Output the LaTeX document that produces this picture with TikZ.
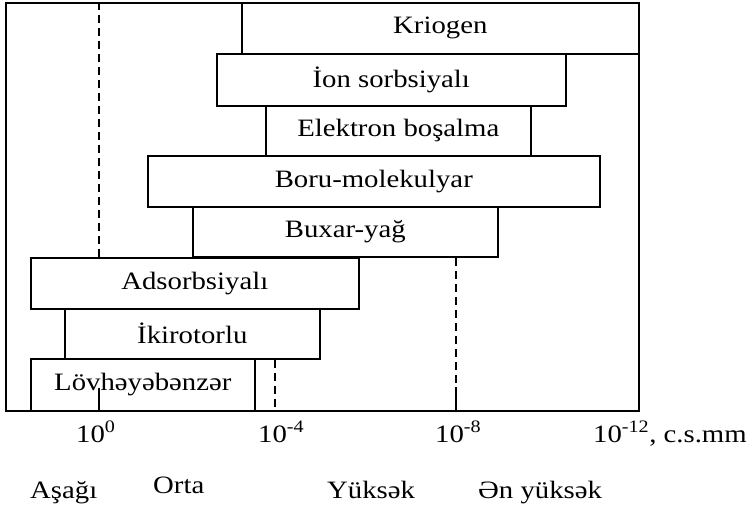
\documentclass[tikz,border=0pt]{standalone}
\usepackage{fontspec}
\setmainfont[FakeStretch=1.15]{Liberation Serif}
\begin{document}
\begin{tikzpicture}[x=1pt,y=-1pt,
  bar/.style={draw,fill=white,line width=1.6pt,inner sep=0pt,anchor=north west,
    font=\fontsize{25}{30}\selectfont},
  lbl/.style={inner sep=0pt,anchor=base west,font=\fontsize{25}{30}\selectfont},
  dashline/.style={line width=1.4pt,dash pattern=on 8pt off 5pt},
  solidline/.style={line width=1.4pt}]
\useasboundingbox (0,0) rectangle (748,509);
% frame
\node[draw,line width=1.6pt,inner sep=0pt,minimum width=633pt,minimum height=408pt,anchor=north west] (frame) at (5,2) {};
% dashed line at 10^0
\coordinate (d0t) at (99,2);
\coordinate (d0b) at (99,257);
\draw[dashline] (d0t) -- (d0b);
% bars
\node[bar,minimum width=397pt,minimum height=51pt] (kriogen) at (241,2) {Kriogen};
\node[bar,minimum width=349pt,minimum height=52pt] (ion) at (216,53) {İon sorbsiyalı};
\node[bar,minimum width=265pt,minimum height=50pt] (elektron) at (265,105) {Elektron boşalma};
\node[bar,minimum width=452pt,minimum height=51pt] (boru) at (147,155) {Boru-molekulyar};
\node[bar,minimum width=305pt,minimum height=50pt] (buxar) at (192,206) {Buxar-yağ};
\node[bar,minimum width=328pt,minimum height=51pt] (adsorb) at (30,257) {Adsorbsiyalı};
\node[bar,minimum width=255pt,minimum height=50pt] (ikirotor) at (64,308) {İkirotorlu};
\node[bar,minimum width=224pt,minimum height=52pt] (lovhe) at (30,358) {Lövhəyəbənzər};
% lines near bottom
\coordinate (s0t) at (99,388);
\coordinate (s0b) at (99,410);
\draw[solidline] (s0t) -- (s0b);
\coordinate (d4t) at (275,360);
\coordinate (d4b) at (275,410);
\draw[dashline] (d4t) -- (d4b);
\coordinate (d8t) at (456,258);
\coordinate (d8m) at (456,387);
\coordinate (d8b) at (456,410);
\draw[dashline] (d8t) -- (d8m);
\draw[solidline] (d8m) -- (d8b);
% tick labels
\node[lbl] (t0) at (76,442) {10\textsuperscript{0}};
\node[lbl] (t4) at (258,442) {10\textsuperscript{-4}};
\node[lbl] (t8) at (435,442) {10\textsuperscript{-8}};
\node[lbl] (t12) at (593,442) {10\textsuperscript{-12}, c.s.mm};
% categories
\node[lbl] (asagi) at (30,498) {Aşağı};
\node[lbl] (orta) at (153,493) {Orta};
\node[lbl] (yuksek) at (327,498) {Yüksək};
\node[lbl] (enyuksek) at (478,498) {Ən yüksək};
\end{tikzpicture}
\end{document}
